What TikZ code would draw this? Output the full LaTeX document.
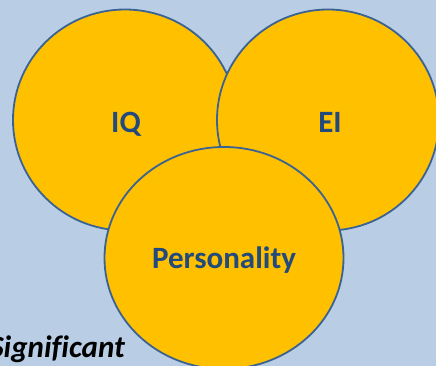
\documentclass[tikz,border=0pt]{standalone}
\usepackage{fontspec}
\setmainfont{Carlito}
\usepackage{xcolor}
\usetikzlibrary{shapes.geometric}
\definecolor{bgblue}{HTML}{B9CDE5}
\definecolor{gold}{HTML}{FFC000}
\definecolor{rim}{HTML}{3A6394}
\definecolor{ink}{HTML}{234A7D}

\begin{document}
\begin{tikzpicture}[x=1pt,y=-1pt,
    bubble/.style={ellipse,draw=rim,fill=gold,line width=1.8pt,inner sep=0pt},
    tag/.style={anchor=base,text=ink,font=\fontsize{31}{31}\selectfont\bfseries}]
    % 背景
    \useasboundingbox (0,0) rectangle (436,366);
    \clip (0,0) rectangle (436,366);
    \fill[bgblue] (0,0) rectangle (436,366);
    % 文字
    \node[anchor=base east,inner sep=0pt,font=\fontsize{31}{31}\selectfont\bfseries\itshape\addfontfeature{Ligatures=NoCommon}] (sig) at (125,357) {Significant};
    % 三个圆
    \node[bubble,minimum width=224pt,minimum height=221pt] (iq) at (125,120) {};
    \node[bubble,minimum width=222pt,minimum height=221pt] (ei) at (328,120) {};
    \node[bubble,minimum width=239pt,minimum height=222pt] (pers) at (224,258) {};
    % 标签
    \node[tag] (iqt) at (126,133) {IQ};
    \node[tag] (eit) at (330,133) {EI};
    \node[tag] (perst) at (224,268) {Personality};
\end{tikzpicture}
\end{document}
